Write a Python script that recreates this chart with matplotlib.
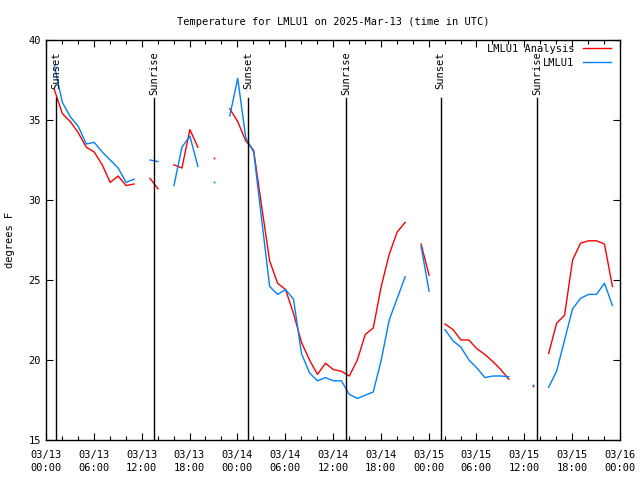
import numpy as np
import matplotlib
matplotlib.use("Agg")
import matplotlib.pyplot as plt
from matplotlib.ticker import MultipleLocator, FixedLocator

nan = np.nan
# hours since 2025-03-13 00:00 UTC
hours = np.arange(1, 72) + 0.05

analysis = [36.9, 35.4, 34.9, 34.2, 33.3, 33.0, 32.2, 31.1, 31.5, 30.9, 31.0,   # 1-11
            nan, 31.35, 30.7, nan,                                             # 12-15
            32.2, 32.0, 34.4, 33.3, nan, 32.65, nan,                           # 16-22
            35.7, 34.9, 33.7, 33.1, 29.6, 26.2, 24.8, 24.4, 22.9, 21.1, 20.0,  # 23-33
            19.1, 19.8, 19.4, 19.3, 19.0, 20.0, 21.6, 22.0, 24.6, 26.6, 28.0,  # 34-44
            28.6, nan, 27.25, 25.3, nan,                                       # 45-49
            22.25, 21.9, 21.25, 21.25, 20.7, 20.35, 19.9, 19.4, 18.8,          # 50-58
            nan, nan, 18.4, nan,                                               # 59-62
            20.4, 22.3, 22.8, 26.25, 27.3, 27.45, 27.45, 27.25, 24.6]          # 63-71

observed = [38.4, 36.1, 35.2, 34.6, 33.5, 33.6, 33.0, 32.5, 32.0, 31.1, 31.3,
            nan, 32.5, 32.4, nan,
            30.9, 33.3, 34.0, 32.1, nan, 31.1, nan,
            35.25, 37.6, 33.9, 33.0, 28.8, 24.6, 24.1, 24.4, 23.8, 20.4, 19.2,
            18.7, 18.9, 18.7, 18.7, 17.85, 17.6, 17.8, 18.0, 20.0, 22.5, 23.85,
            25.2, nan, 27.1, 24.3, nan,
            21.9, 21.2, 20.8, 20.0, 19.5, 18.9, 19.0, 19.0, 18.95,
            nan, nan, 18.45, nan,
            18.3, 19.3, 21.25, 23.2, 23.85, 24.1, 24.1, 24.8, 23.4]

sun_times = [1.3, 13.6, 25.4, 37.65, 49.5, 61.65]
sun_labels = ["Sunset", "Sunrise", "Sunset", "Sunrise", "Sunset", "Sunrise"]

xtick_hours = list(range(0, 73, 6))
xtick_labels = ["03/13\n00:00", "03/13\n06:00", "03/13\n12:00", "03/13\n18:00",
                "03/14\n00:00", "03/14\n06:00", "03/14\n12:00", "03/14\n18:00",
                "03/15\n00:00", "03/15\n06:00", "03/15\n12:00", "03/15\n18:00",
                "03/16\n00:00"]

plt.rcParams['font.family'] = ['DejaVu Sans Mono']
fs = 7.5

fig = plt.figure(figsize=(6.4, 4.8), dpi=100)
ax = fig.add_axes([46/640, 40/480, 574/640, 400/480])

red = '#ff0000'
blue = '#0080ff'

def isolated(vals):
    v = np.array(vals, dtype=float)
    mask = np.zeros(len(v), bool)
    for i in range(len(v)):
        if np.isnan(v[i]):
            continue
        left = i == 0 or np.isnan(v[i-1])
        right = i == len(v)-1 or np.isnan(v[i+1])
        mask[i] = left and right
    return v, mask

for vals, col, lab in [(analysis, red, "LMLU1 Analysis"), (observed, blue, "LMLU1")]:
    v, m = isolated(vals)
    ax.plot(hours, v, color=col, lw=1.0, label=lab)
    ax.plot(hours[m], v[m], ls='none', marker='s', ms=1.2, color=col, mew=0)

for t, lab in zip(sun_times, sun_labels):
    ax.plot([t, t], [15, 36.35], color='black', lw=1.0)
    ax.text(t, 39.3, lab, rotation=90, ha='center', va='top', fontsize=fs)

ax.set_xlim(0, 72)
ax.set_ylim(15, 40)
ax.xaxis.set_major_locator(FixedLocator(xtick_hours))
ax.set_xticklabels(xtick_labels, fontsize=fs, linespacing=1.45)
ax.xaxis.set_minor_locator(MultipleLocator(2))
ax.yaxis.set_major_locator(MultipleLocator(5))
ax.tick_params(axis='both', which='both', direction='in', top=True, right=True,
               labelsize=fs, width=0.8)
ax.tick_params(which='major', length=5)
ax.tick_params(which='minor', length=3)
ax.tick_params(axis='x', pad=7)
for s in ax.spines.values():
    s.set_linewidth(1.0)

ax.set_ylabel("degrees F", fontsize=fs, labelpad=10)
ax.set_title("Temperature for LMLU1 on 2025-Mar-13 (time in UTC)", fontsize=fs, pad=11)

leg = ax.legend(loc='upper right', bbox_to_anchor=(1 - 6/574, 1 - 1/400),
                frameon=False, fontsize=fs, handlelength=2.7,
                markerfirst=False, borderaxespad=0.0, borderpad=0.3,
                labelspacing=0.35, handletextpad=0.8)
for t in leg.get_texts():
    t.set_ha('right')

fig.savefig("out.png", dpi=100)
